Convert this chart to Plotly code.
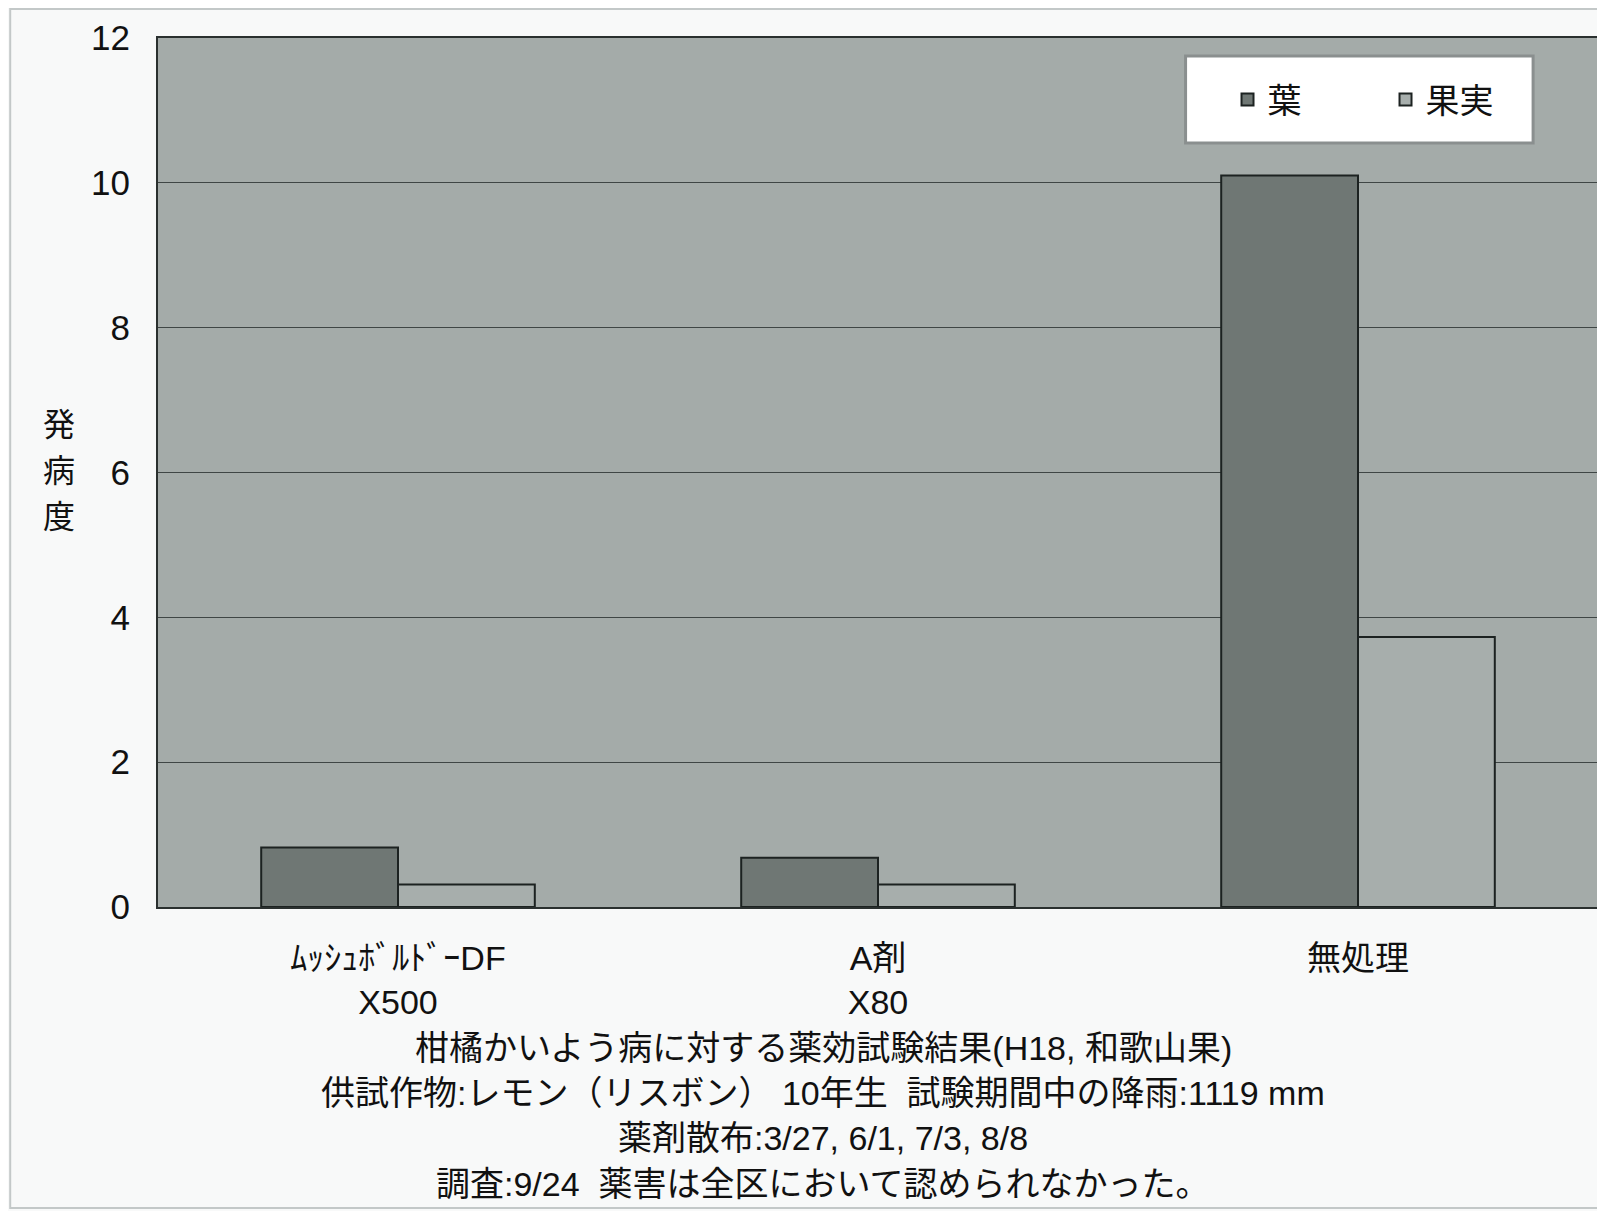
import plotly.graph_objects as go

categories = ["ﾑｯｼｭﾎﾞﾙﾄﾞｰDF<br>X500", "A剤<br>X80", "無処理"]
series_names = ["葉", "果実"]
leaf_values = [0.82, 0.68, 10.1]
fruit_values = [0.31, 0.31, 3.73]
y_ticks = [0, 2, 4, 6, 8, 10, 12]
y_title = "発病度"
caption_lines = [
    "柑橘かいよう病に対する薬効試験結果(H18, 和歌山果)",
    "供試作物:レモン（リスボン） 10年生  試験期間中の降雨:1119 mm",
    "薬剤散布:3/27, 6/1, 7/3, 8/8",
    "調査:9/24  薬害は全区において認められなかった。",
]

FONT = "Liberation Sans, Arial, 'Noto Sans CJK JP', sans-serif"
OFF = 8  # body margin of the html page
W, H = 1597, 1203
L, R, T, B = 150, 5, 30, 304
PW, PH = W - L - R, H - T - B


def px_x(page_x):
    return (page_x - OFF - L) / PW


def px_y(page_y):
    return (H - B - (page_y - OFF)) / PH


fig = go.Figure()
fig.add_trace(go.Bar(x=categories, y=leaf_values, name=series_names[0],
                     marker=dict(color="#6f7774", line=dict(color="#1c2221", width=2))))
fig.add_trace(go.Bar(x=categories, y=fruit_values, name=series_names[1],
                     marker=dict(color="#a7aeac", line=dict(color="#1c2221", width=2))))

annotations = []
cap_y = [1048, 1093, 1138, 1184]
for line, yy in zip(caption_lines, cap_y):
    annotations.append(dict(text=line, xref="paper", yref="paper", x=px_x(824), y=px_y(yy),
                            xanchor="center", yanchor="middle", showarrow=False,
                            font=dict(size=34, color="#111111", family=FONT)))
for i, ch in enumerate(y_title):
    annotations.append(dict(text=ch, xref="paper", yref="paper", x=px_x(59), y=px_y(425 + 46 * i),
                            xanchor="center", yanchor="middle", showarrow=False,
                            font=dict(size=32, color="#111111", family=FONT)))

fig.update_layout(
    width=W, height=H,
    margin=dict(l=L, r=R, t=T, b=B),
    paper_bgcolor="#f8f9f9",
    plot_bgcolor="#a4aba9",
    barmode="group",
    bargap=0.43,
    bargroupgap=0,
    font=dict(family=FONT, size=34, color="#111111"),
    showlegend=True,
    legend=dict(orientation="h", x=px_x(1229), y=px_y(71), xanchor="left", yanchor="top",
                bgcolor="rgba(0,0,0,0)", borderwidth=0,
                font=dict(size=34, family=FONT), entrywidth=113,
                itemwidth=30),
    annotations=annotations,
    shapes=[
        dict(type="rect", xref="paper", yref="paper",
             x0=px_x(10), x1=px_x(1603), y0=px_y(1208), y1=px_y(9),
             line=dict(color="#c3c8c8", width=2), layer="below"),
        dict(type="rect", xref="paper", yref="paper",
             x0=px_x(1187), x1=px_x(1535), y0=px_y(143), y1=px_y(56),
             fillcolor="#ffffff", line=dict(color="#8a8f8f", width=3), layer="above"),
    ],
)
fig.update_xaxes(showline=True, linecolor="#2a302f", linewidth=2, mirror=True,
                 ticks="", tickfont=dict(size=34), ticklabelstandoff=20)
fig.update_yaxes(range=[0, 12], tickvals=y_ticks, showgrid=True, gridcolor="#3f4645",
                 gridwidth=1, showline=True, linecolor="#2a302f", linewidth=2, mirror=True,
                 zeroline=False, ticks="", tickfont=dict(size=35), ticklabelstandoff=19)

fig.write_html("out.html")
